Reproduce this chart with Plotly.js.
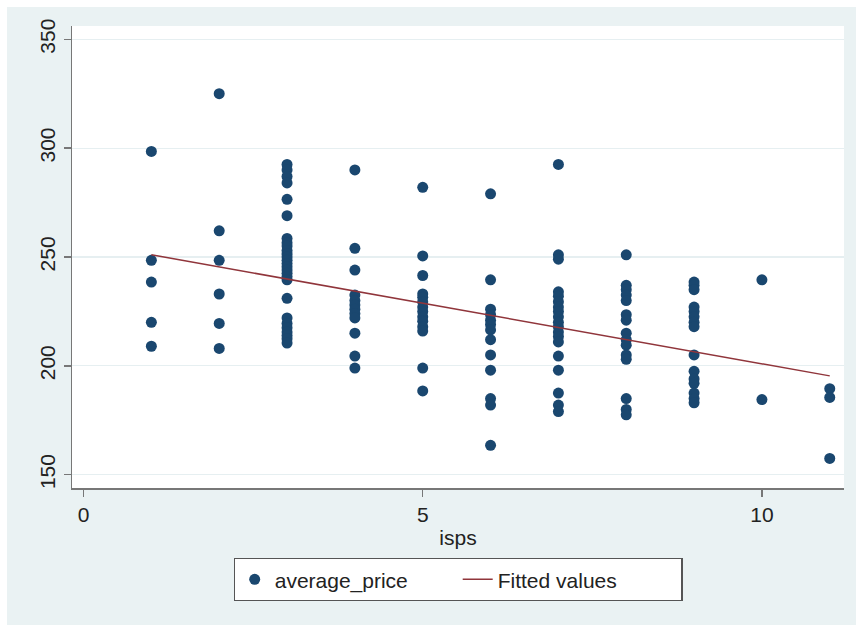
<!DOCTYPE html>
<html>
<head>
<meta charset="utf-8">
<script src="https://cdn.plot.ly/plotly-3.0.1.min.js"></script>
<style>html,body{margin:0;padding:0;background:#fff;}#chart{width:856px;height:625px;}</style>
</head>
<body>
<div id="chart"></div>
<script>
// isps levels and observed average_price values at each level
const ispsLevels = [1, 2, 3, 4, 5, 6, 7, 8, 9, 10, 11];
const priceAt1 = [298.5, 248.5, 238.5, 220, 209];
const priceAt2 = [325, 262, 248.5, 233, 219.5, 208];
const priceAt3 = [292.5, 290, 287, 284, 276.5, 269, 258.5, 256.5, 255, 253, 251.5, 250, 248.5, 247, 245.5, 244, 242.5, 241, 239.5, 231, 222, 219.5, 217.5, 215.5, 214, 212.5, 210.5];
const priceAt4 = [290, 254, 244, 232.5, 230, 228, 226, 224, 222, 215, 204.5, 199];
const priceAt5 = [282, 250.5, 241.5, 233, 231.5, 229.5, 227, 225, 222.5, 220.5, 218, 216, 199, 188.5];
const priceAt6 = [279, 239.5, 226, 223.5, 221, 219, 216.5, 212, 205, 198, 185, 182, 163.5];
const priceAt7 = [292.5, 251, 249, 234, 232, 229.5, 227, 225, 222.5, 220, 218, 215.5, 213.5, 211, 204.5, 198, 187.5, 182, 179];
const priceAt8 = [251, 237, 235, 232.5, 230, 223.5, 221, 215, 212, 209.5, 205, 203, 185, 180, 177.5];
const priceAt9 = [238.5, 237, 235, 227, 225, 222.5, 220, 218, 205, 197.5, 194, 192, 187.5, 185, 183];
const priceAt10 = [239.5, 184.5];
const priceAt11 = [189.5, 185.5, 157.5];
const priceGroups = [priceAt1, priceAt2, priceAt3, priceAt4, priceAt5, priceAt6, priceAt7, priceAt8, priceAt9, priceAt10, priceAt11];

// fitted regression line end points
const fitX = [1, 11];
const fitY = [251, 195.4];

const xTicks = [0, 5, 10];
const yTicks = [150, 200, 250, 300, 350];

const px = [], py = [];
priceGroups.forEach((g, i) => g.forEach(v => { px.push(ispsLevels[i]); py.push(v); }));

const font = 'Liberation Sans, Arial, Helvetica, sans-serif';

const traces = [
  {
    type: 'scatter', mode: 'markers', name: 'average_price',
    x: px, y: py,
    marker: {color: '#1a476f', size: 11, line: {width: 0}}
  },
  {
    type: 'scatter', mode: 'lines', name: 'Fitted values',
    x: fitX, y: fitY,
    line: {color: '#90353b', width: 1.5}
  }
];

const W = 772, H = 462;
const layout = {
  width: 856, height: 625,
  margin: {l: 72, r: 12, t: 26, b: 137},
  paper_bgcolor: '#eaf2f3',
  plot_bgcolor: '#ffffff',
  font: {family: font, size: 21, color: '#222'},
  showlegend: true,
  xaxis: {
    range: [-0.17, 11.21],
    tickvals: xTicks, ticktext: xTicks.map(String),
    ticks: 'outside', ticklen: 7, tickwidth: 1.5, tickcolor: '#777',
    showgrid: false, zeroline: false,
    showline: true, linecolor: '#777', linewidth: 1.5,
    tickfont: {family: font, size: 21, color: '#222'},
    title: {text: 'isps', font: {family: font, size: 21, color: '#222'}, standoff: 5}
  },
  yaxis: {
    range: [143.9, 356.1],
    tickvals: yTicks, ticktext: yTicks.map(String),
    tickangle: -90,
    ticks: 'outside', ticklen: 7, tickwidth: 1.5, tickcolor: '#777',
    showgrid: true, gridcolor: '#e6eff1', gridwidth: 1.2,
    zeroline: false,
    showline: true, linecolor: '#777', linewidth: 1.5,
    tickfont: {family: font, size: 21, color: '#222'}
  },
  legend: {
    orientation: 'h',
    x: 0.5, xanchor: 'center',
    y: -70 / H, yanchor: 'top',
    bgcolor: '#ffffff', bordercolor: '#555', borderwidth: 1.2,
    font: {family: font, size: 21, color: '#222'},
    entrywidth: 178, entrywidthmode: 'pixels',
    traceorder: 'normal'
  },
  shapes: [
    {type: 'rect', xref: 'paper', yref: 'paper', layer: 'below',
     x0: -72 / W, x1: -65 / W, y0: -137 / H, y1: 1 + 26 / H,
     fillcolor: '#ffffff', line: {width: 0}},
    {type: 'rect', xref: 'paper', yref: 'paper', layer: 'below',
     x0: -72 / W, x1: 1 + 12 / W, y0: 1 + 19 / H, y1: 1 + 26 / H,
     fillcolor: '#ffffff', line: {width: 0}}
  ]
};

Plotly.newPlot('chart', traces, layout, {displayModeBar: false, staticPlot: true});
</script>
</body>
</html>
